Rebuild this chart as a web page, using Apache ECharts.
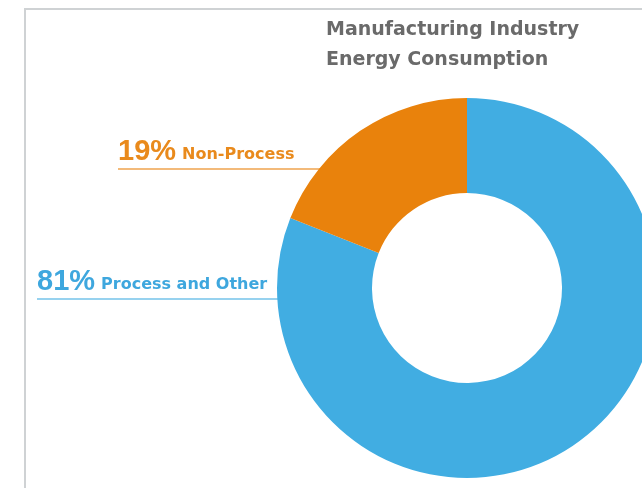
<!DOCTYPE html>
<html>
<head>
<meta charset="utf-8">
<script src="https://cdn.jsdelivr.net/npm/echarts@6/dist/echarts.min.js"></script>
<style>
  html, body { margin: 0; padding: 0; background: #fff; }
  #chart { width: 642px; height: 488px; }
</style>
</head>
<body>
<div id="chart"></div>
<script>
// data
const categories = ['Process and Other', 'Non-Process'];
const shares = [81, 19];
const titleLines = ['Manufacturing Industry', 'Energy Consumption'];

// layout (px)
const cx = 467, cy = 288, rIn = 95, rOut = 190;
const labelLeft = [37, 118];   // where each label text starts
const labelLineY = [299, 169];  // y of the underline

const chart = echarts.init(document.getElementById('chart'));

chart.setOption({
  color: ['#41ade2', '#e9820c'],
  title: {
    text: titleLines.join('\n'),
    left: 326,
    top: 15,
    padding: 0,
    textStyle: {
      fontFamily: 'DejaVu Sans',
      fontWeight: 'bold',
      fontSize: 19,
      lineHeight: 30,
      color: '#6a6a6a'
    }
  },
  graphic: [{
    type: 'polyline',
    shape: { points: [[25, 488], [25, 9], [642, 9]] },
    style: { stroke: '#cfd2d4', lineWidth: 2, fill: null }
  }],
  series: [{
    type: 'pie',
    center: [cx, cy],
    radius: [rIn, rOut],
    startAngle: 90,
    clockwise: true,
    avoidLabelOverlap: false,
    animation: false,
    data: categories.map((c, i) => ({
      name: c,
      value: shares[i],
      label: { color: i === 0 ? '#3ea7de' : '#e98a1c' }
    })),
    label: {
      show: true,
      position: 'outside',
      formatter: '{pct|{c}%}{nm|{b}}',
      rich: {
        pct: {
          fontFamily: 'Liberation Sans',
          fontWeight: 'bold',
          fontSize: 29,
          lineHeight: 30,
          verticalAlign: 'bottom'
        },
        nm: {
          fontFamily: 'DejaVu Sans',
          fontWeight: 'bold',
          fontSize: 16,
          lineHeight: 30,
          verticalAlign: 'bottom',
          padding: [0, 0, 3, 6]
        }
      }
    },
    labelLine: {
      show: true,
      lineStyle: { width: 2, opacity: 0.55 }
    },
    labelLayout: function (p) {
      const i = p.dataIndex;
      const y = labelLineY[i];
      const xEdge = cx - Math.sqrt(rOut * rOut - (y - cy) * (y - cy));
      return {
        x: labelLeft[i],
        y: y - 3,
        align: 'left',
        verticalAlign: 'bottom',
        labelLinePoints: [[xEdge + 2, y], [labelLeft[i], y], [labelLeft[i], y]]
      };
    }
  }]
});
</script>
</body>
</html>
